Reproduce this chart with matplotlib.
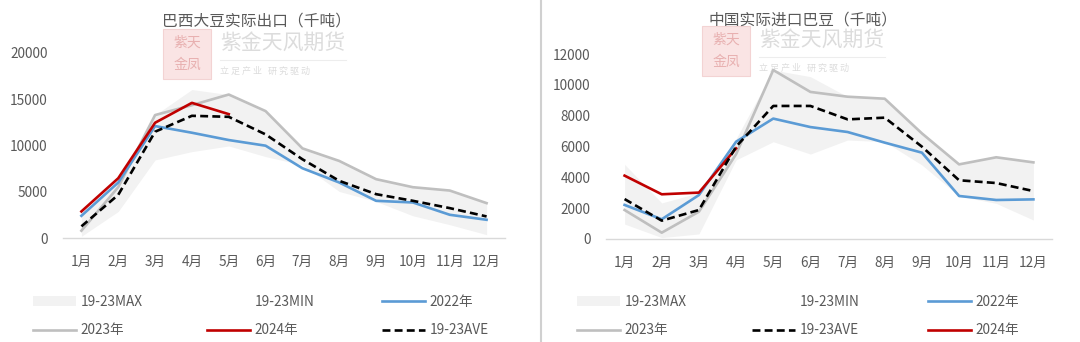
import matplotlib
matplotlib.use("Agg")
import matplotlib.pyplot as plt
from matplotlib.lines import Line2D
from matplotlib.patches import Patch, Rectangle

plt.rcParams['font.family'] = ['Noto Sans CJK SC', 'DejaVu Sans']

months = ['1月', '2月', '3月', '4月', '5月', '6月', '7月', '8月', '9月', '10月', '11月', '12月']

# Left: 巴西大豆实际出口（千吨）
br_max = [2500, 6200, 13300, 16050, 15500, 13720, 9700, 8330, 6360, 5490, 5130, 3770]
br_min = [180, 2870, 8440, 9340, 9950, 8800, 7900, 5030, 3950, 2400, 1440, 360]
br_2022 = [2400, 6000, 12100, 11380, 10590, 9980, 7540, 6000, 4020, 3840, 2510, 1970]
br_2023 = [790, 5500, 13290, 14360, 15510, 13720, 9690, 8330, 6360, 5490, 5130, 3770]
br_2024 = [2870, 6460, 12460, 14610, 13390]
br_ave = [1260, 4670, 11490, 13210, 13100, 11200, 8510, 6180, 4740, 4020, 3230, 2330]

# Right: 中国实际进口巴豆（千吨）
cn_max = [4840, 2340, 3000, 6500, 10960, 10530, 9230, 9100, 6960, 4840, 5300, 4970]
cn_min = [970, 90, 330, 5130, 6310, 5510, 6420, 6310, 4800, 2790, 2310, 1230]
cn_2022 = [2210, 1280, 2850, 6310, 7810, 7260, 6940, 6250, 5600, 2790, 2530, 2570]
cn_2023 = [1880, 410, 1770, 5500, 10960, 9540, 9230, 9100, 6850, 4840, 5300, 4970]
cn_2024 = [4110, 2900, 3010, 5880]
cn_ave = [2590, 1190, 1880, 5990, 8630, 8630, 7760, 7870, 5990, 3810, 3630, 3110]

W, H = 1080, 342
fig = plt.figure(figsize=(W / 100, H / 100), dpi=100)
fig.patch.set_facecolor('white')

TXT = '#595959'
C_BAND = '#F2F2F2'
C_2022 = '#5B9BD5'
C_2023 = '#BFBFBF'
C_2024 = '#C00000'
C_AVE = 'black'
LW = 1.9
FS = 9.8


def fx(px):
    return px / W


def fy(py):
    return 1 - py / H


def px_axes(x0, x1, ytop, ybot):
    return fig.add_axes([fx(x0), fy(ybot), (x1 - x0) / W, (ybot - ytop) / H])


def watermark(x, y):
    fig.patches.append(Rectangle((fx(x), fy(y + 50)), 48 / W, 50 / H,
                                 transform=fig.transFigure, facecolor='#FAE4E4',
                                 edgecolor='#F3D3D3', lw=0.8, zorder=0))
    fig.text(fx(x + 24), fy(y + 14), '紫天', fontsize=10, color='#E8B0B0',
             ha='center', va='center', zorder=0)
    fig.text(fx(x + 24), fy(y + 36), '金凤', fontsize=10, color='#E8B0B0',
             ha='center', va='center', zorder=0)
    fig.text(fx(x + 57), fy(y + 14), '紫金天风期货', fontsize=15,
             color='#DCDCDC', ha='left', va='center', zorder=0, fontweight='medium')
    fig.add_artist(Line2D([fx(x + 57), fx(x + 183)], [fy(y + 31)] * 2,
                          color='#EDEDED', lw=0.8, zorder=0))
    fig.text(fx(x + 57), fy(y + 42), '立 足 产 业   研 究 驱 动', fontsize=6.5,
             color='#DCDCDC', ha='left', va='center', zorder=0)


def panel(ax, mx, mn, s22, s23, s24, ave, ymax, ystep):
    x = list(range(12))
    ax.set_zorder(2)
    ax.patch.set_alpha(0)
    ax.fill_between(x, mn, mx, color=C_BAND, lw=0, zorder=1)
    ax.plot(x, s22, color=C_2022, lw=LW, zorder=3)
    ax.plot(x, s23, color=C_2023, lw=LW, zorder=2)
    ax.plot(list(range(len(s24))), s24, color=C_2024, lw=LW, zorder=4)
    ax.plot(x, ave, color=C_AVE, lw=LW, ls=(0, (3, 1.6)), zorder=5)
    ax.set_xlim(-0.5, 11.5)
    ax.set_ylim(0, ymax)
    ax.set_yticks(range(0, ymax + 1, ystep))
    ax.set_xticks(x)
    ax.set_xticklabels(months)
    for s in ['top', 'right', 'left']:
        ax.spines[s].set_visible(False)
    ax.spines['bottom'].set_color('#D9D9D9')
    ax.spines['bottom'].set_linewidth(1.0)
    ax.tick_params(axis='both', length=0, labelsize=FS, colors=TXT)
    ax.tick_params(axis='x', pad=12.5)
    ax.tick_params(axis='y', pad=11)


HANDLES = {
    'MAX': (Patch(facecolor=C_BAND, edgecolor='none'), '19-23MAX'),
    'MIN': (Patch(facecolor='white', edgecolor='none'), '19-23MIN'),
    '2022': (Line2D([], [], color=C_2022, lw=LW), '2022年'),
    '2023': (Line2D([], [], color=C_2023, lw=LW), '2023年'),
    '2024': (Line2D([], [], color=C_2024, lw=LW), '2024年'),
    'AVE': (Line2D([], [], color=C_AVE, lw=LW, ls=(0, (3, 1.6))), '19-23AVE'),
}


def add_legend(rows, xs):
    # rows: [[k1,k2,k3],[k4,k5,k6]]; xs: handle-left pixel of each column
    for c, x in enumerate(xs):
        keys = [rows[0][c], rows[1][c]]
        fig.legend([HANDLES[k][0] for k in keys], [HANDLES[k][1] for k in keys],
                   loc='upper left', bbox_to_anchor=(fx(x), fy(295)),
                   frameon=False, fontsize=FS, labelcolor=TXT,
                   handlelength=3.15, handletextpad=0.37, labelspacing=1.05,
                   borderaxespad=0, borderpad=0, handleheight=0.7)


# left panel
axL = px_axes(63, 505, 53, 238)
panel(axL, br_max, br_min, br_2022, br_2023, br_2024, br_ave, 20000, 5000)
fig.text(fx(256), fy(21), '巴西大豆实际出口（千吨）', fontsize=11.3, color=TXT,
         ha='center', va='center', zorder=3)

# right panel
axR = px_axes(606, 1052, 54, 239)
panel(axR, cn_max, cn_min, cn_2022, cn_2023, cn_2024, cn_ave, 12000, 2000)
fig.text(fx(803), fy(20), '中国实际进口巴豆（千吨）', fontsize=11.3, color=TXT,
         ha='center', va='center', zorder=3)

watermark(163, 29)
watermark(702, 26)

add_legend([['MAX', 'MIN', '2022'], ['2023', '2024', 'AVE']], [33, 207, 382])
add_legend([['MAX', 'MIN', '2022'], ['2023', 'AVE', '2024']], [577, 752, 928])

# panel separator
fig.add_artist(Line2D([fx(541), fx(541)], [0, 1], color='#D0D0D0', lw=1.5))

fig.savefig('out.png', dpi=100, facecolor='white')
